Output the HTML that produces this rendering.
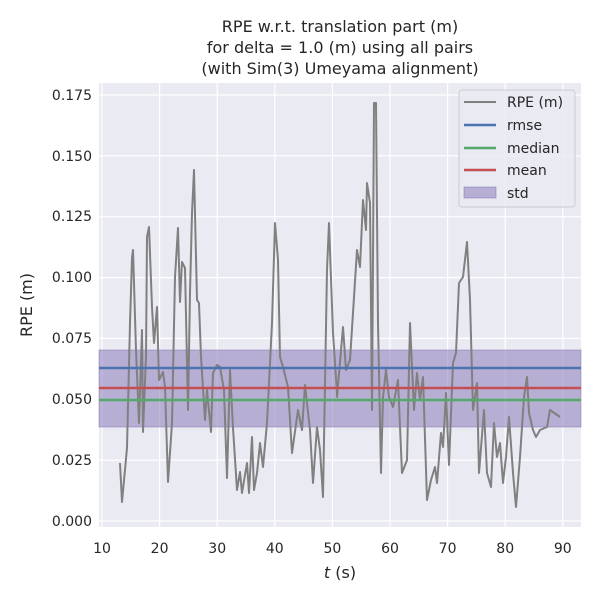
<!DOCTYPE html>
<html><head><meta charset="utf-8"><style>body{margin:0;background:#fff}svg{display:block}text{font-family:"DejaVu Sans","Liberation Sans",sans-serif;fill:#262626}</style></head><body>
<svg width="600" height="600" xmlns="http://www.w3.org/2000/svg">
<rect x="99" y="83" width="482" height="444" fill="#eaeaf2"/>
<g stroke="#fff" stroke-width="1.2">
<line x1="102" y1="83" x2="102" y2="527"/><line x1="159.6" y1="83" x2="159.6" y2="527"/><line x1="217.2" y1="83" x2="217.2" y2="527"/><line x1="274.8" y1="83" x2="274.8" y2="527"/><line x1="332.4" y1="83" x2="332.4" y2="527"/><line x1="390" y1="83" x2="390" y2="527"/><line x1="447.6" y1="83" x2="447.6" y2="527"/><line x1="505.2" y1="83" x2="505.2" y2="527"/><line x1="562.8" y1="83" x2="562.8" y2="527"/>
<line x1="99" y1="521" x2="581" y2="521"/><line x1="99" y1="460.1" x2="581" y2="460.1"/><line x1="99" y1="399.3" x2="581" y2="399.3"/><line x1="99" y1="338.4" x2="581" y2="338.4"/><line x1="99" y1="277.6" x2="581" y2="277.6"/><line x1="99" y1="216.7" x2="581" y2="216.7"/><line x1="99" y1="155.8" x2="581" y2="155.8"/><line x1="99" y1="95" x2="581" y2="95"/>
</g>
<rect x="99" y="350" width="482" height="77" fill="#8172b3" fill-opacity="0.5" stroke="#8172b3" stroke-opacity="0.5"/>
<polyline fill="none" stroke="#808080" stroke-width="2" stroke-linejoin="round" points="120,463 122,502 127,448 130,323 132,258 133,250 136,350 139,423 142,330 143,432 146,357 147,237 149,227 152,307 154,343 157,307 159,380 163,372 165,387 168,482 172,423 175,277 178,228 180,302 182,262 185,268 188,410 190,293 192,213 194,170 197,300 199,303 201,357 205,420 207,390 211,432 213,373 217,365 220,367 224,390 227,478 230,370 233,428 237,490 240,472 242,493 247,463 249,493 252,437 254,490 257,473 260,443 263,467 267,423 272,323 275,223 278,260 280,357 283,367 288,387 292,453 298,410 302,430 305,385 310,430 313,483 317,427 320,450 323,497 327,270 329,223 333,333 337,393 337,397 343,327 346,370 350,360 357,250 360,267 363,200 366,230 367,183 370,203 372,410 374,103 376,103 378,323 381,473 383,397 386,370 389,397 393,407 398,380 402,473 407,460 410,323 414,410 417,373 420,400 423,377 427,500 431,480 435,467 437,483 441,433 443,447 446,393 449,465 453,363 456,353 459,283 463,277 467,242 470,300 473,410 477,383 479,473 484,410 487,473 491,487 494,423 497,457 500,443 503,483 506,457 509,417 513,473 516,507 520,457 524,397 527,377 529,413 533,430 536,437 540,430 547,427 550,410 560,417"/>
<line x1="99" y1="368" x2="581" y2="368" stroke="#4c72b0" stroke-width="2.5"/>
<line x1="99" y1="388" x2="581" y2="388" stroke="#c44e52" stroke-width="2.5"/>
<line x1="99" y1="400" x2="581" y2="400" stroke="#55a868" stroke-width="2.5"/>
<g font-size="14" text-anchor="middle">
<text x="102" y="553">10</text><text x="159.6" y="553">20</text><text x="217.2" y="553">30</text><text x="274.8" y="553">40</text><text x="332.4" y="553">50</text><text x="390" y="553">60</text><text x="447.6" y="553">70</text><text x="505.2" y="553">80</text><text x="562.8" y="553">90</text>
</g>
<g font-size="14" text-anchor="end">
<text x="92" y="526">0.000</text><text x="92" y="465">0.025</text><text x="92" y="404">0.050</text><text x="92" y="343">0.075</text><text x="92" y="282">0.100</text><text x="92" y="221">0.125</text><text x="92" y="161">0.150</text><text x="92" y="100">0.175</text>
</g>
<text x="340" y="578" font-size="16" text-anchor="middle"><tspan font-style="italic">t</tspan> (s)</text>
<text x="32" y="305" font-size="16" text-anchor="middle" transform="rotate(-90 32 305)">RPE (m)</text>
<g font-size="16" text-anchor="middle">
<text x="340" y="32">RPE w.r.t. translation part (m)</text>
<text x="340" y="53">for delta = 1.0 (m) using all pairs</text>
<text x="340" y="74">(with Sim(3) Umeyama alignment)</text>
</g>
<rect x="459" y="90" width="116" height="117" rx="3" fill="#eaeaf2" fill-opacity="0.85" stroke="#ccc"/>
<line x1="464" y1="102" x2="496" y2="102" stroke="#808080" stroke-width="2"/>
<line x1="464" y1="125" x2="496" y2="125" stroke="#4c72b0" stroke-width="2.5"/>
<line x1="464" y1="148" x2="496" y2="148" stroke="#55a868" stroke-width="2.5"/>
<line x1="464" y1="170" x2="496" y2="170" stroke="#c44e52" stroke-width="2.5"/>
<rect x="464" y="187" width="32" height="11" fill="#8172b3" fill-opacity="0.5" stroke="#8172b3" stroke-opacity="0.5"/>
<g font-size="14">
<text x="507" y="107">RPE (m)</text><text x="507" y="130">rmse</text><text x="507" y="153">median</text><text x="507" y="175">mean</text><text x="507" y="198">std</text>
</g>
</svg>
</body></html>
